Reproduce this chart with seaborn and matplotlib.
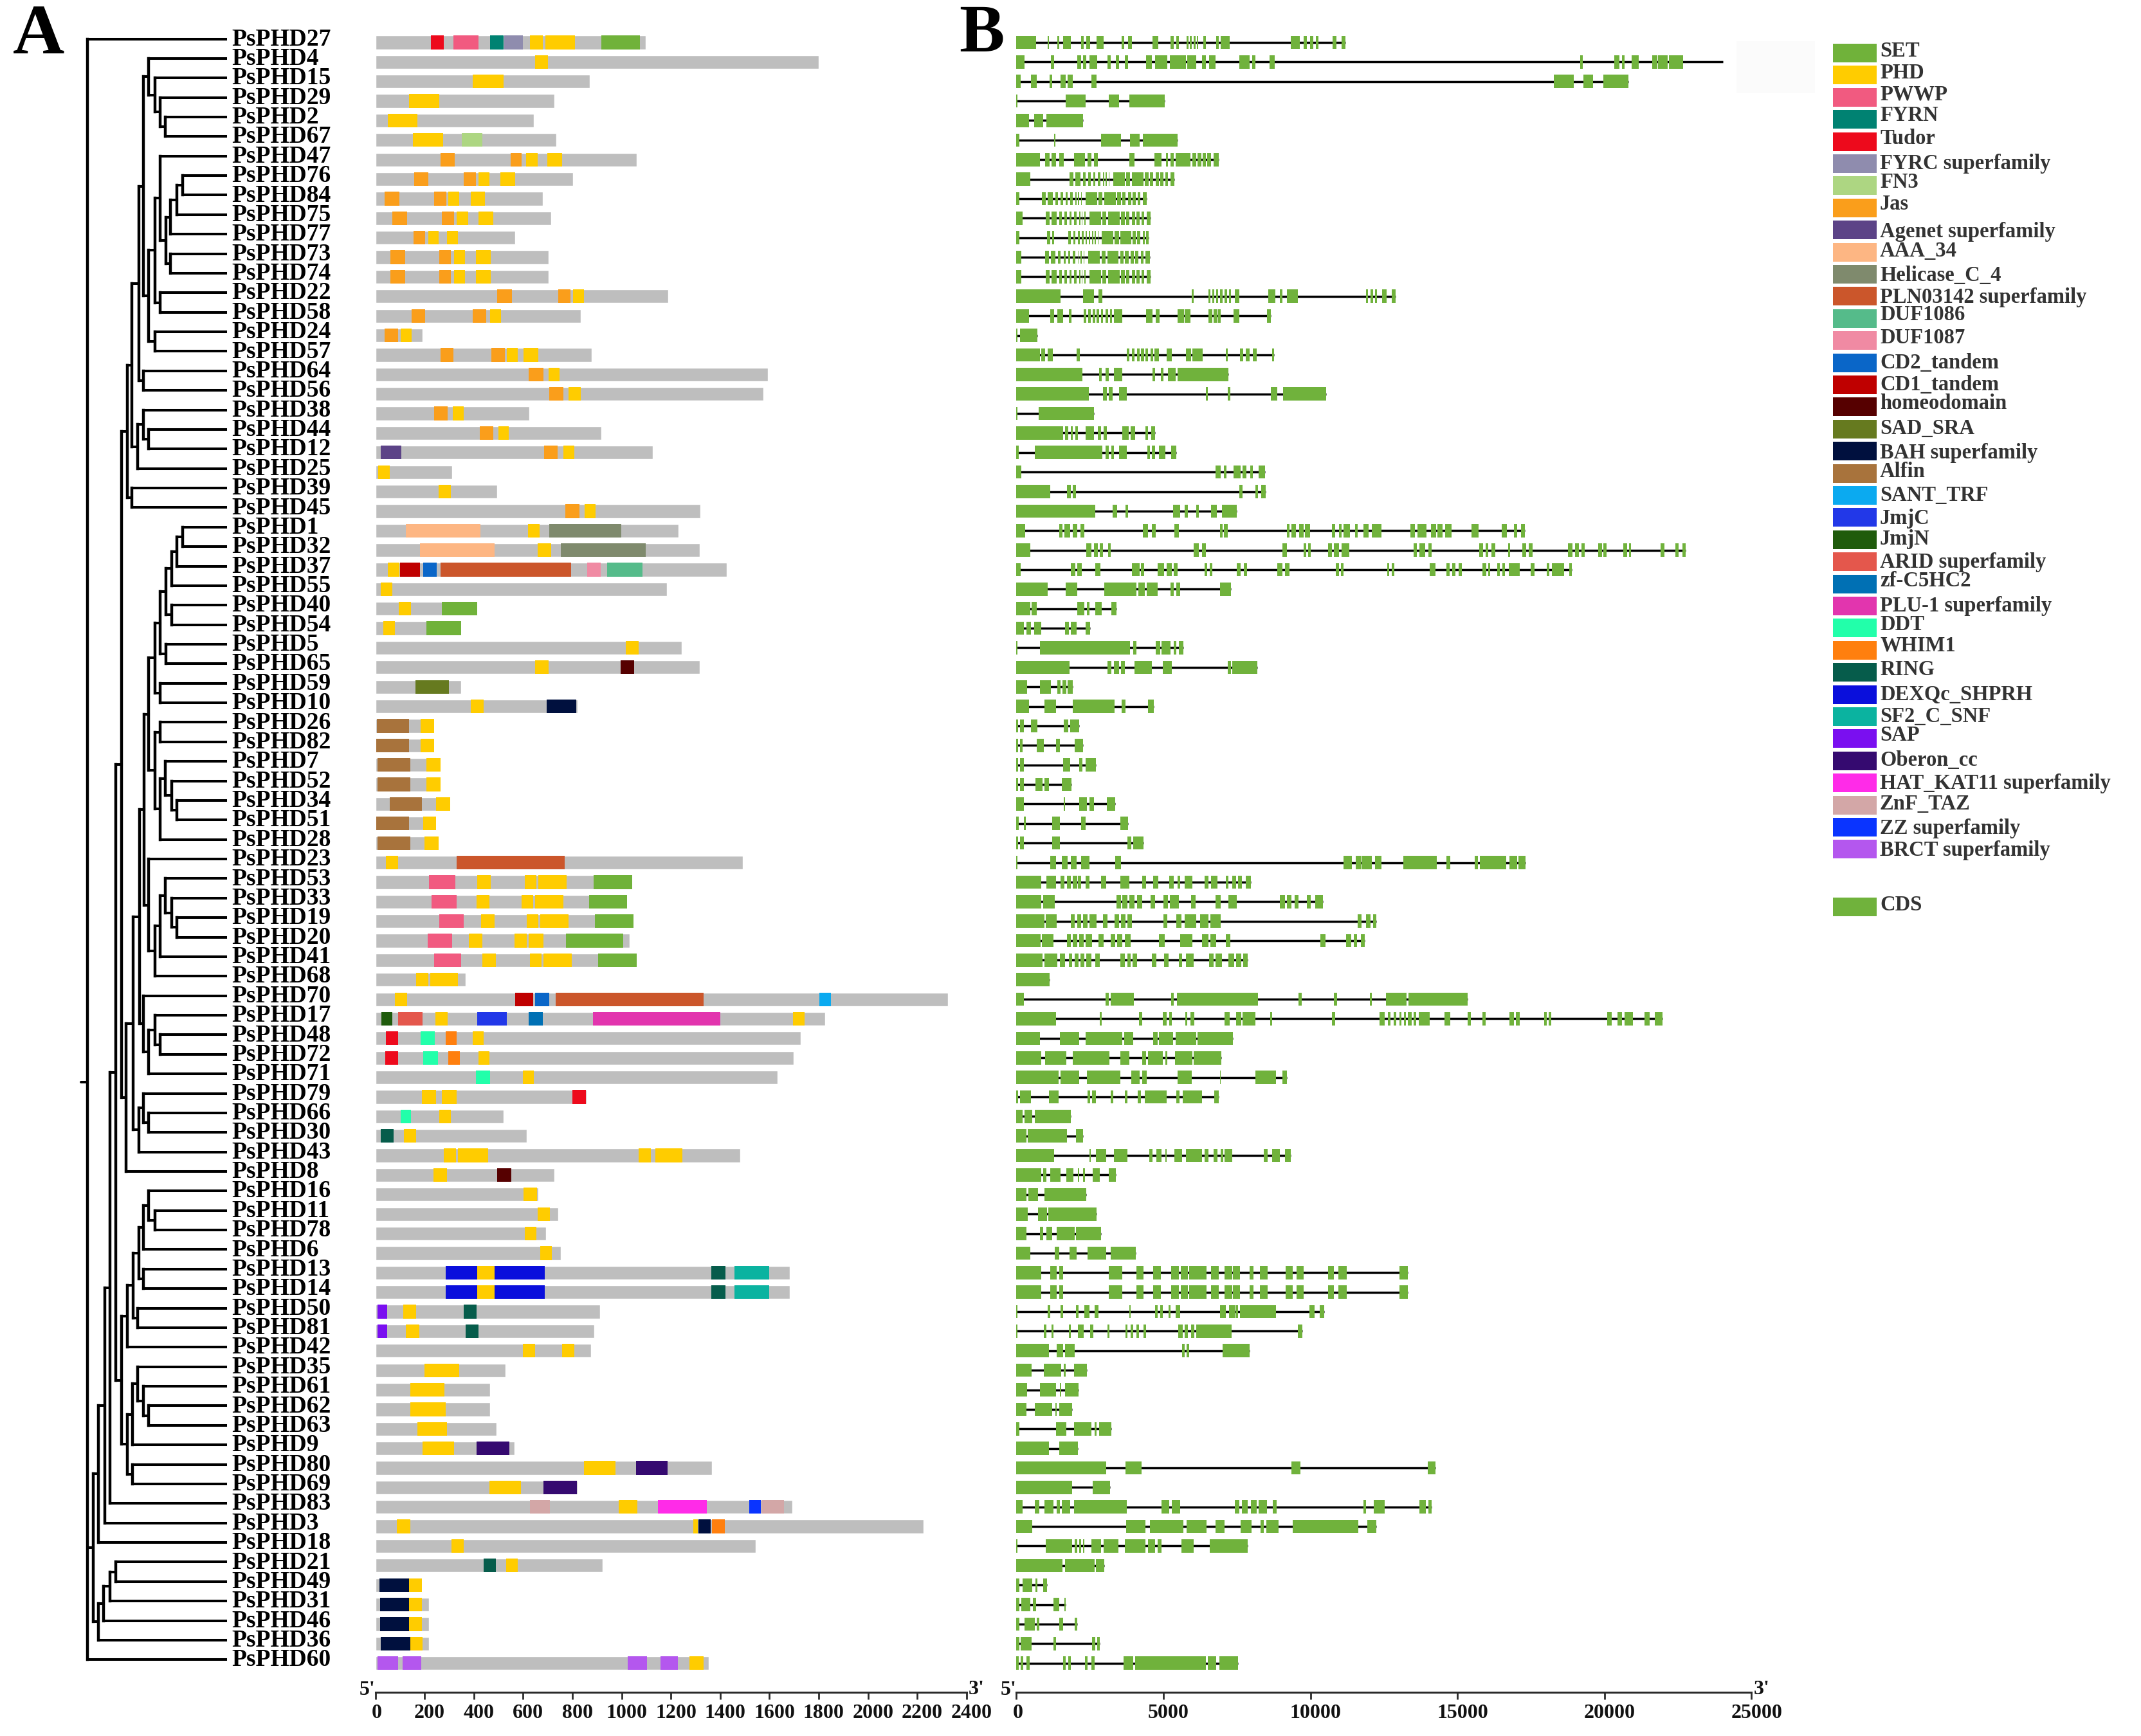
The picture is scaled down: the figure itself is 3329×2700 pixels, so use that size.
import matplotlib
matplotlib.use("Agg")
import matplotlib.pyplot as plt
from matplotlib.transforms import ScaledTranslation
import pandas as pd
import seaborn as sns

# Row order, top to bottom
genes = ["PsPHD27","PsPHD4","PsPHD15","PsPHD29","PsPHD2","PsPHD67","PsPHD47","PsPHD76","PsPHD84","PsPHD75","PsPHD77","PsPHD73","PsPHD74","PsPHD22",
         "PsPHD58","PsPHD24","PsPHD57","PsPHD64","PsPHD56","PsPHD38","PsPHD44","PsPHD12","PsPHD25","PsPHD39","PsPHD45","PsPHD1","PsPHD32","PsPHD37",
         "PsPHD55","PsPHD40","PsPHD54","PsPHD5","PsPHD65","PsPHD59","PsPHD10","PsPHD26","PsPHD82","PsPHD7","PsPHD52","PsPHD34","PsPHD51","PsPHD28",
         "PsPHD23","PsPHD53","PsPHD33","PsPHD19","PsPHD20","PsPHD41","PsPHD68","PsPHD70","PsPHD17","PsPHD48","PsPHD72","PsPHD71","PsPHD79","PsPHD66",
         "PsPHD30","PsPHD43","PsPHD8","PsPHD16","PsPHD11","PsPHD78","PsPHD6","PsPHD13","PsPHD14","PsPHD50","PsPHD81","PsPHD42","PsPHD35","PsPHD61",
         "PsPHD62","PsPHD63","PsPHD9","PsPHD80","PsPHD69","PsPHD83","PsPHD3","PsPHD18","PsPHD21","PsPHD49","PsPHD31","PsPHD46","PsPHD36","PsPHD60"]

# Protein lengths (aa), same order as genes
protein_len = [1098,1800,872,726,643,734,1061,803,681,714,568,703,703,1188,833,193,879,1593,1577,626,917,1127,311,496,1321,1232,1318,1428,1185,413,348,
               1243,1316,348,820,240,240,265,265,303,248,258,1493,1042,1021,1049,1032,1062,366,2325,1827,1727,1699,1632,857,521,616,1483,726,662,744,694,
               754,1684,1684,912,889,876,528,465,465,491,566,1367,821,1693,2227,1545,924,190,218,218,218,1354]

# Legend, domain name -> colour
legend_names = ["SET","PHD","PWWP","FYRN","Tudor","FYRC superfamily","FN3","Jas","Agenet superfamily","AAA_34","Helicase_C_4","PLN03142 superfamily",
                "DUF1086","DUF1087","CD2_tandem","CD1_tandem","homeodomain","SAD_SRA","BAH superfamily","Alfin","SANT_TRF","JmjC","JmjN","ARID superfamily",
                "zf-C5HC2","PLU-1 superfamily","DDT","WHIM1","RING","DEXQc_SHPRH","SF2_C_SNF","SAP","Oberon_cc","HAT_KAT11 superfamily","ZnF_TAZ",
                "ZZ superfamily","BRCT superfamily","CDS"]
legend_colors = ["#70B23A","#FFCC00","#F15A80","#008272","#ED0A1C","#8F8CAE","#ADD682","#FA9E1B","#5C4387","#FDB683","#7F8A6D","#CB562B",
                 "#55BB8A","#F08AA3","#0A66C8","#BF0000","#560000","#667A1F","#00103E","#A8733C","#0BAAF0","#2238E8","#1F5B0C","#E4574C",
                 "#0070B4","#E235AE","#22FFAA","#FF7F0E","#065C4B","#0A0FDC","#0BB3A0","#7A0FF0","#350A70","#FF2BE8","#D3A7A7",
                 "#0A34FF","#B457EE","#70B23C"]
legend_box_top = [68,102,137,171,206,240,274,309,343,378,412,446,481,515,550,584,618,653,687,722,756,790,825,859,894,928,962,997,1031,1066,1100,
                  1134,1169,1203,1238,1272,1306,1396]
legend_text_y = [79,113,147,180,216,255,284,318,360,391,428,462,490,525,564,599,628,666,704,733,770,806,839,874,903,942,971,1004,1041,1080,1115,
                 1143,1183,1218,1251,1288,1322,1407]

# Domains: (name, start aa, end aa)
dom_27 = [("Tudor",225,278),("PWWP",316,418),("FYRN",466,520),("FYRC superfamily",524,600),("PHD",629,680),("PHD",691,811),("SET",917,1075)]
dom_4 = [("PHD",649,700)]
dom_15 = [("PHD",396,520)]
dom_29 = [("PHD",137,261)]
dom_2 = [("PHD",50,171)]
dom_67 = [("PHD",153,275),("FN3",350,435)]
dom_47 = [("Jas",265,323),("Jas",549,594),("PHD",613,658),("PHD",699,758)]
dom_76 = [("Jas",157,216),("Jas",360,408),("PHD",420,463),("PHD",508,568)]
dom_84 = [("Jas",37,97),("Jas",238,288),("PHD",296,341),("PHD",388,446)]
dom_75 = [("Jas",68,128),("Jas",271,320),("PHD",331,376),("PHD",420,480)]
dom_77 = [("Jas",155,203),("PHD",215,258),("PHD",290,335)]
dom_73 = [("Jas",62,122),("Jas",260,308),("PHD",320,365),("PHD",408,468)]
dom_74 = [("Jas",62,122),("Jas",260,308),("PHD",320,365),("PHD",408,468)]
dom_22 = [("Jas",495,555),("Jas",744,793),("PHD",803,848)]
dom_58 = [("Jas",147,203),("Jas",396,451),("PHD",465,510)]
dom_24 = [("Jas",37,92),("PHD",102,147)]
dom_57 = [("Jas",265,318),("Jas",470,525),("PHD",533,579),("PHD",603,661)]
dom_64 = [("Jas",624,683),("PHD",704,748)]
dom_56 = [("Jas",706,763),("PHD",784,833)]
dom_38 = [("Jas",238,295),("PHD",315,358)]
dom_44 = [("Jas",423,480),("PHD",500,543)]
dom_12 = [("Agenet superfamily",22,105),("Jas",686,741),("PHD",763,808)]
dom_25 = [("PHD",13,58)]
dom_39 = [("PHD",258,308)]
dom_45 = [("Jas",771,829),("PHD",849,895)]
dom_1 = [("AAA_34",125,426),("PHD",619,668),("Helicase_C_4",706,999)]
dom_32 = [("AAA_34",181,485),("PHD",658,713),("Helicase_C_4",753,1097)]
dom_37 = [("PHD",52,97),("CD1_tandem",100,181),("CD2_tandem",195,250),("PLN03142 superfamily",265,794),("DUF1087",860,916),("DUF1086",941,1084)]
dom_55 = [("PHD",22,70)]
dom_40 = [("PHD",95,145),("SET",271,413)]
dom_54 = [("PHD",32,80),("SET",208,348)]
dom_5 = [("PHD",1018,1068)]
dom_65 = [("PHD",648,703),("homeodomain",995,1050)]
dom_59 = [("SAD_SRA",163,300)]
dom_10 = [("PHD",388,441),("BAH superfamily",696,816)]
dom_26 = [("Alfin",7,137),("PHD",185,240)]
dom_82 = [("Alfin",5,137),("PHD",185,240)]
dom_7 = [("Alfin",10,142),("PHD",208,265)]
dom_52 = [("Alfin",10,142),("PHD",208,265)]
dom_34 = [("Alfin",58,188),("PHD",246,303)]
dom_51 = [("Alfin",3,137),("PHD",195,248)]
dom_28 = [("Alfin",10,142),("PHD",201,258)]
dom_23 = [("PHD",43,93),("PLN03142 superfamily",330,769)]
dom_53 = [("PWWP",218,325),("PHD",413,468),("PHD",606,654),("PHD",661,778),("SET",887,1042)]
dom_33 = [("PWWP",228,330),("PHD",410,463),("PHD",593,641),("PHD",648,763),("SET",868,1021)]
dom_19 = [("PWWP",260,358),("PHD",430,485),("PHD",614,663),("PHD",669,784),("SET",892,1049)]
dom_20 = [("PWWP",213,311),("PHD",381,436),("PHD",566,616),("PHD",623,683),("SET",774,1006)]
dom_41 = [("PWWP",238,348),("PHD",435,490),("PHD",628,676),("PHD",684,798),("SET",904,1062)]
dom_68 = [("PHD",166,216),("PHD",223,336)]
dom_70 = [("PHD",80,128),("CD1_tandem",569,641),("CD2_tandem",649,706),("PLN03142 superfamily",733,1334),("SANT_TRF",1804,1851)]
dom_17 = [("JmjN",25,68),("ARID superfamily",93,191),("PHD",245,293),("JmjC",415,534),("zf-C5HC2",623,679),("PLU-1 superfamily",884,1400),("PHD",1697,1744)]
dom_48 = [("Tudor",43,93),("DDT",183,241),("WHIM1",285,331),("PHD",396,441)]
dom_72 = [("Tudor",40,92),("DDT",195,255),("WHIM1",296,343),("PHD",418,463)]
dom_71 = [("DDT",408,465),("PHD",599,644)]
dom_79 = [("PHD",190,246),("PHD",271,330),("Tudor",799,854)]
dom_66 = [("DDT",102,145),("PHD",260,306)]
dom_30 = [("RING",23,75),("PHD",117,165)]
dom_43 = [("PHD",278,328),("PHD",335,458),("PHD",1070,1118),("PHD",1138,1248)]
dom_8 = [("PHD",236,291),("homeodomain",495,551)]
dom_16 = [("PHD",601,656)]
dom_11 = [("PHD",659,708)]
dom_78 = [("PHD",606,654)]
dom_6 = [("PHD",669,718)]
dom_13 = [("DEXQc_SHPRH",286,413),("PHD",413,485),("DEXQc_SHPRH",485,689),("RING",1365,1422),("SF2_C_SNF",1457,1598)]
dom_14 = [("DEXQc_SHPRH",286,413),("PHD",413,485),("DEXQc_SHPRH",485,689),("RING",1365,1422),("SF2_C_SNF",1457,1598)]
dom_50 = [("SAP",10,48),("PHD",113,167),("RING",358,411)]
dom_81 = [("SAP",10,47),("PHD",123,178),("RING",368,420)]
dom_42 = [("PHD",598,648),("PHD",758,808)]
dom_35 = [("PHD",201,341)]
dom_61 = [("PHD",143,281)]
dom_62 = [("PHD",143,285)]
dom_63 = [("PHD",170,290)]
dom_9 = [("PHD",193,321),("Oberon_cc",411,544)]
dom_80 = [("PHD",847,974),("Oberon_cc",1060,1187)]
dom_69 = [("PHD",463,591),("Oberon_cc",684,818)]
dom_83 = [("ZnF_TAZ",629,708),("PHD",987,1063),("HAT_KAT11 superfamily",1147,1347),("ZZ superfamily",1517,1566),("ZnF_TAZ",1569,1658)]
dom_3 = [("PHD",87,143),("PHD",1290,1310),("BAH superfamily",1313,1362),("WHIM1",1368,1418)]
dom_18 = [("PHD",310,358)]
dom_21 = [("RING",440,490),("PHD",531,579)]
dom_49 = [("BAH superfamily",17,137),("PHD",137,190)]
dom_31 = [("BAH superfamily",20,138),("PHD",138,188)]
dom_46 = [("BAH superfamily",20,138),("PHD",138,188)]
dom_36 = [("BAH superfamily",23,142),("PHD",142,191)]
dom_60 = [("BRCT superfamily",10,93),("BRCT superfamily",110,186),("BRCT superfamily",1026,1104),("BRCT superfamily",1158,1228),("PHD",1276,1332)]

# Exons (bp)
exon_27 = [(0,670),(1055,1105),(1390,1460),(1590,1860),(2190,2280),(2380,2500),(2730,2960),(3580,3670),(3800,3930),(4620,4820),(5240,5360),(5440,5520),(5780,5850),(5900,5970),(6020,6090),(6130,6190),(6360,6450),(6800,6880),(6950,7250),(9340,9630),(9760,9880),(9990,10090),(10180,10280),(10750,10880),(11050,11180)]
exon_4 = [(0,285),(1170,1290),(2075,2190),(2260,2380),(2480,2745),(3100,3200),(3380,3500),(3680,3800),(4420,4600),(4720,5140),(5220,5775),(5810,6110),(6310,6445),(6560,6780),(7570,7920),(8020,8120),(8600,8790),(19170,19270),(20340,20510),(20590,20690),(20925,21160),(21630,21800),(21830,22150),(22200,22680)]
exon_15 = [(0,135),(500,690),(1120,1220),(1510,1680),(1740,1910),(2560,2730),(18280,18950),(19280,19620),(19950,20810)]
exon_29 = [(0,35),(1675,2360),(3130,3480),(3830,5040)]
exon_2 = [(0,435),(600,920),(1020,2260)]
exon_67 = [(0,100),(1290,1320),(2880,3550),(3870,4185),(4300,5490)]
exon_47 = [(0,800),(970,1120),(1205,1355),(1455,1605),(1960,2330),(2430,2545),(2645,2760),(3850,4020),(4700,4940),(5090,5155),(5240,5340),(5420,5925),(5990,6110),(6160,6280),(6330,6445),(6495,6610),(6700,6880)]
exon_76 = [(0,470),(1810,1940),(2010,2180),(2260,2345),(2445,2530),(2615,2680),(2765,2850),(2950,2980),(3030,3065),(3130,3165),(3285,3685),(3735,3870),(3935,4320),(4370,4490),(4540,4655),(4740,4840),(4890,4990),(5075,5160),(5240,5375)]
exon_84 = [(0,100),(870,1000),(1070,1240),(1320,1405),(1505,1590),(1675,1740),(1825,1910),(2010,2040),(2090,2125),(2190,2225),(2345,2745),(2795,2930),(2995,3380),(3430,3550),(3600,3715),(3800,3900),(3950,4050),(4135,4220),(4300,4435)]
exon_75 = [(0,220),(1000,1130),(1200,1370),(1450,1535),(1635,1720),(1805,1870),(1955,2040),(2140,2170),(2220,2255),(2320,2355),(2475,2875),(2925,3060),(3125,3510),(3560,3680),(3730,3845),(3930,4030),(4080,4180),(4265,4350),(4430,4565)]
exon_77 = [(0,100),(1040,1160),(1220,1290),(1760,1850),(1930,2000),(2090,2150),(2220,2280),(2350,2400),(2470,2510),(2580,2610),(2660,2700),(2770,2800),(2900,3300),(3340,3480),(3540,3900),(3960,4060),(4110,4220),(4290,4360),(4410,4490)]
exon_73 = [(0,170),(965,1100),(1165,1335),(1415,1500),(1600,1685),(1770,1835),(1920,2005),(2105,2135),(2185,2220),(2285,2320),(2440,2840),(2890,3025),(3090,3475),(3525,3645),(3695,3810),(3895,3995),(4045,4145),(4230,4315),(4395,4530)]
exon_74 = [(0,170),(1000,1130),(1200,1370),(1450,1535),(1635,1720),(1805,1870),(1955,2040),(2140,2170),(2220,2255),(2320,2355),(2475,2875),(2925,3060),(3125,3510),(3560,3680),(3730,3845),(3930,4030),(4080,4180),(4265,4350),(4430,4565)]
exon_22 = [(0,1490),(2260,2630),(2795,2930),(5960,6030),(6530,6600),(6660,6730),(6800,6860),(6930,7010),(7080,7165),(7230,7300),(7430,7585),(8555,8805),(8955,9055),(9190,9575),(11885,11950),(12035,12120),(12200,12270),(12440,12600),(12770,12905)]
exon_58 = [(0,435),(1155,1290),(1390,1590),(1775,1875),(2280,2380),(2445,2530),(2595,2680),(2730,2810),(2880,2950),(3030,3110),(3180,3260),(3310,3600),(4400,4620),(4740,4870),(5490,5690),(5725,5910),(6530,6660),(6700,6830),(6860,6950),(7380,7585),(8520,8655)]
exon_24 = [(0,30),(120,720)]
exon_57 = [(0,800),(855,970),(1055,1240),(2040,2160),(3750,3850),(3920,4020),(4100,4185),(4235,4335),(4385,4485),(4555,4650),(4700,4855),(5120,5290),(5775,5945),(5990,6330),(7115,7180),(7600,7720),(7800,7920),(8035,8170),(8690,8770)]
exon_64 = [(0,2245),(2810,2910),(3030,3130),(3315,3600),(4620,4705),(4905,4990),(5155,5405),(5475,7215)]
exon_56 = [(0,2460),(2945,3065),(3130,3265),(3500,3750),(6445,6510),(7180,7280),(8655,8870),(9075,10530)]
exon_38 = [(0,35),(755,2630)]
exon_44 = [(0,1590),(1660,1760),(1840,1910),(2010,2090),(2345,2630),(2760,2880),(2960,3080),(3600,3820),(3885,4035),(4385,4470),(4590,4720)]
exon_12 = [(0,85),(635,2930),(3030,3130),(3230,3315),(3500,3750),(4450,4535),(4600,4705),(4840,5070),(5270,5440)]
exon_25 = [(0,170),(6780,6950),(7050,7150),(7380,7620),(7700,7820),(7950,8050),(8235,8455)]
exon_39 = [(0,1140),(1725,1840),(1910,2025),(7580,7700),(8135,8220),(8335,8470)]
exon_45 = [(0,2680),(3265,3415),(3700,3800),(5320,5575),(5725,5825),(6110,6195),(6610,6815),(7000,7500)]
exon_1 = [(0,300),(1455,1575),(1640,1825),(1925,2060),(2175,2310),(4300,4470),(4600,4740),(5375,5525),(6915,7015),(7065,7180),(9190,9290),(9360,9510),(9610,9760),(9810,9980),(10730,10830),(10965,11065),(11130,11350),(11515,11600),(11800,11970),(12085,12405),(13390,13560),(13645,13945),(14095,14280),(14310,14500),(14580,14800),(15470,15720),(16505,16675),(16910,17025),(17160,17290)]
exon_32 = [(0,470),(2375,2560),(2630,2760),(2845,2945),(3115,3215),(6025,6195),(6310,6445),(9040,9190),(9760,9845),(9925,10010),(10595,10730),(10800,10965),(11050,11315),(13510,13610),(13695,13895),(14010,14110),(15735,15870),(15950,16050),(16155,16290),(16725,16790),(17210,17340),(17425,17545),(18750,18915),(19000,19135),(19220,19320),(19790,19920),(19970,20070),(20640,20775),(20825,20910),(21900,22030),(22415,22515),(22650,22750)]
exon_37 = [(0,150),(1860,2010),(2060,2225),(2680,2860),(3935,4185),(4235,4350),(4805,5020),(5105,5275),(5355,5490),(6395,6480),(6580,6660),(7500,7635),(7735,7850),(8870,9055),(9125,9290),(10865,10965),(11030,11130),(12605,12670),(12770,12855),(14060,14260),(14615,14730),(14815,14930),(15030,15150),(15850,15985),(16050,16120),(16355,16440),(16520,16620),(16740,17125),(17490,17625),(18045,18130),(18215,18630),(18800,18880)]
exon_55 = [(0,1070),(1675,2075),(2980,4085),(4150,4370),(4435,4805),(5240,5340),(5440,5560),(6930,7300)]
exon_40 = [(0,470),(520,690),(2075,2310),(2395,2495),(2680,2910),(3230,3400)]
exon_54 = [(0,250),(350,485),(600,855),(1655,1775),(1840,2040),(2345,2510)]
exon_5 = [(0,35),(800,3865),(3965,4085),(4740,4890),(4940,5240),(5340,5440),(5525,5675)]
exon_65 = [(0,1810),(3100,3230),(3315,3480),(3565,3680),(4020,4600),(4970,5290),(7180,7300),(7350,8200)]
exon_59 = [(0,370),(800,1170),(1390,1510),(1575,1690),(1740,1910)]
exon_10 = [(0,420),(955,1340),(1925,3330),(3580,3700),(4470,4670)]
exon_26 = [(0,50),(120,250),(500,720),(1610,1760),(1825,2125)]
exon_82 = [(0,50),(120,220),(690,940),(1355,1470),(1990,2260)]
exon_7 = [(0,50),(120,250),(1590,1825),(2140,2245),(2345,2710)]
exon_52 = [(0,50),(120,250),(650,890),(955,1105),(1540,1875)]
exon_34 = [(0,250),(1610,1660),(2140,2395),(2495,2645),(3080,3365)]
exon_51 = [(0,85),(250,320),(1220,1470),(2210,2345),(3530,3800)]
exon_28 = [(0,50),(120,250),(1220,1470),(3765,3900),(3970,4320)]
exon_23 = [(0,35),(1155,1340),(1540,1740),(1860,2040),(2190,2495),(3365,3550),(11115,11400),(11550,11735),(11750,12085),(12205,12405),(13160,14300),(14630,14765),(15585,15700),(15770,16655),(16760,17025),(17075,17325)]
exon_53 = [(0,855),(1020,1355),(1490,1640),(1725,1860),(1925,2060),(2090,2190),(2345,2495),(2880,3045),(3530,3850),(4270,4400),(4655,4820),(5190,5355),(5475,5575),(5725,5990),(6395,6530),(6610,6830),(7115,7215),(7330,7465),(7535,7665),(7800,7985)]
exon_33 = [(0,855),(920,1305),(3400,3565),(3600,3770),(3850,4020),(4100,4270),(4555,4720),(4990,5155),(5225,5525),(5945,6095),(6780,6950),(7200,7485),(8955,9125),(9210,9360),(9460,9595),(9875,10010),(10160,10430)]
exon_19 = [(0,955),(1005,1375),(1860,1990),(2060,2190),(2260,2430),(2480,2730),(2945,3095),(3330,3500),(3550,3700),(3780,3935),(4990,5140),(5440,5610),(5725,6110),(6245,6530),(6600,6950),(11600,11735),(11885,12050),(12135,12240)]
exon_20 = [(0,820),(870,1255),(1710,1860),(1925,2075),(2145,2280),(2360,2580),(2795,2960),(3215,3350),(3415,3600),(3680,3885),(4840,5040),(5575,5975),(6310,6530),(6600,6800),(7115,7280),(10330,10510),(11215,11380),(11465,11585),(11720,11850)]
exon_41 = [(0,890),(955,1390),(1470,1655),(1790,1900),(1975,2110),(2175,2310),(2380,2560),(2680,2845),(3530,3680),(3765,3885),(3950,4100),(4600,4770),(5020,5170),(5525,5625),(5775,6025),(6560,6700),(6770,6995),(7200,7400),(7470,7650),(7720,7870)]
exon_68 = [(0,1120)]
exon_70 = [(0,250),(3030,3130),(3215,4000),(5255,5340),(5455,8220),(9590,9710),(10800,10900),(12020,12090),(12570,13260),(13330,15335)]
exon_17 = [(0,1355),(2830,2910),(4170,4270),(4970,5105),(5205,5275),(5740,5810),(5910,6060),(7080,7250),(7480,7650),(7700,8120),(8620,8705),(10730,10830),(12355,12520),(12640,12720),(12840,12920),(13020,13100),(13170,13250),(13320,13440),(13500,13600),(13680,14060),(14565,14750),(15350,15450),(15850,15950),(16760,16920),(16990,17125),(17945,18040),(18110,18195),(20090,20255),(20440,20590),(20675,20975),(21360,21545),(21710,21980)]
exon_48 = [(0,800),(1470,2140),(2360,3600),(3665,3970),(4640,4805),(4855,5325),(5405,5610),(5610,6110),(6160,7365)]
exon_72 = [(0,840),(970,1690),(1925,3165),(3530,3850),(4270,4400),(4485,4970),(5055,5140),(5390,5990),(6025,6965)]
exon_71 = [(0,1440),(1490,2140),(2395,3530),(3900,4200),(4270,4435),(5490,5960),(6915,6950),(8135,8820),(9040,9205)]
exon_79 = [(0,50),(120,485),(1105,1440),(2410,2510),(2580,2710),(3215,3300),(3680,3785),(4135,4235),(4370,5105),(5440,5540),(5660,6310),(6730,6880)]
exon_66 = [(0,220),(285,535),(620,1860)]
exon_30 = [(0,335),(385,1725),(2025,2275)]
exon_43 = [(0,1290),(2480,2530),(2710,3060),(3315,3785),(4520,4620),(4755,4940),(5055,5105),(5375,5625),(5775,6310),(6395,6530),(6700,6830),(6950,7030),(7080,7350),(8420,8540),(8700,8955),(9125,9340)]
exon_8 = [(0,835),(905,1015),(1140,1505),(1705,1940),(2085,2140),(2270,2340),(2595,2830),(3140,3390)]
exon_16 = [(0,345),(415,745),(960,2375)]
exon_11 = [(0,380),(745,1035),(1090,2720)]
exon_78 = [(0,345),(800,905),(1015,1215),(1360,1975),(2030,2885)]
exon_6 = [(0,470),(1305,1450),(1815,2050),(2410,3050),(3210,4065)]
exon_13 = [(0,850),(1160,1380),(1450,1595),(3140,3610),(4080,4320),(4645,4915),(5260,5515),(5585,5840),(5875,6460),(6620,6875),(7075,7330),(7365,7600),(7925,8055),(8290,8545),(9160,9395),(9525,9760),(10610,10795),(10955,11230),(13025,13315)]
exon_14 = [(0,850),(1160,1380),(1450,1595),(3140,3610),(4080,4320),(4645,4915),(5260,5515),(5585,5840),(5875,6460),(6620,6875),(7075,7330),(7365,7600),(7925,8055),(8290,8545),(9160,9395),(9525,9760),(10610,10795),(10955,11230),(13025,13315)]
exon_50 = [(0,35),(1070,1160),(1505,1580),(2015,2120),(2320,2485),(2650,2795),(3830,3880),(4715,4805),(4900,4970),(5170,5240),(5425,5570),(6930,7130),(7240,7420),(7455,7545),(7600,8835),(9975,10140),(10320,10465)]
exon_81 = [(0,35),(925,1015),(1200,1250),(1780,1850),(2085,2285),(2505,2610),(3100,3155),(3720,3775),(3880,3970),(4080,4170),(4320,4410),(5495,5660),(5730,5840),(5950,6060),(6115,7310),(9580,9725)]
exon_42 = [(0,1105),(1360,1580),(1650,1975),(5640,5715),(5785,5875),(7020,7925)]
exon_35 = [(0,510),(925,1525),(1615,1685),(1960,2395)]
exon_61 = [(0,365),(800,1340),(1470,1525),(1650,2120)]
exon_62 = [(0,345),(635,1215),(1325,1380),(1450,1905)]
exon_63 = [(0,90),(1340,1705),(1960,2560),(2650,2720),(2810,3230)]
exon_9 = [(0,1105),(1450,2085)]
exon_80 = [(0,3050),(3700,4265),(9360,9650),(13985,14260)]
exon_69 = [(0,1905),(2595,3190)]
exon_83 = [(0,200),(635,780),(960,1270),(1360,1470),(1540,1830),(1960,3755),(4935,5205),(5280,5570),(7420,7580),(7675,7875),(7965,8165),(8235,8525),(8725,8855),(11810,11880),(12155,12515),(13715,13915),(14020,14130)]
exon_3 = [(0,545),(3735,4390),(4535,5680),(5785,6475),(6765,7075),(7635,8000),(8310,8415),(8505,8925),(9395,11630),(11935,12245)]
exon_18 = [(0,35),(1000,1905),(1975,2070),(2140,2195),(2265,2320),(2560,2885),(2955,3465),(3680,4390),(4480,4715),(4805,4935),(5605,6020),(6585,7875)]
exon_21 = [(0,1560),(1650,2650),(2700,2995)]
exon_49 = [(0,90),(200,545),(655,710),(905,1035)]
exon_31 = [(0,90),(165,470),(560,670),(1270,1450),(1630,1670)]
exon_46 = [(0,90),(270,635),(690,780),(1450,1595),(1975,2070)]
exon_36 = [(0,90),(145,510),(1270,1340),(2575,2685),(2740,2830)]
exon_60 = [(0,70),(145,235),(345,455),(1580,1685),(1760,1850),(2340,2430),(2540,2650),(3645,3975),(4045,6440),(6510,6800),(6910,7530)]

# PsPHD4 carries a long 3' stretch past its last exon
line_end_overrides = {"PsPHD4": 24020}

# Tree: (branch depth, child, child, ...), leaves are gene names
tree = (136, "PsPHD27",
    (145,
        (153,
            (163,
                (171,
                    (180,
                        (189,
                            (198,
                                (205,
                                    (216,
                                        (223,
                                            (231, "PsPHD4", (241, "PsPHD15", (249, "PsPHD29", (257, "PsPHD2", "PsPHD67")))),
                                            (231,
                                                (241,
                                                    (249, "PsPHD47", (258, (265, (275, (284, "PsPHD76", "PsPHD84"), "PsPHD75"), "PsPHD77"), (265, "PsPHD73", "PsPHD74"))),
                                                    (249, "PsPHD22", "PsPHD58")),
                                                (241, "PsPHD24", "PsPHD57"))),
                                        (223, "PsPHD64", "PsPHD56")),
                                    (214, (223, "PsPHD38", (231, "PsPHD44", "PsPHD12")), "PsPHD25")),
                                (205, "PsPHD39", "PsPHD45")),
                            (196,
                                (207,
                                    (217,
                                        (224,
                                            (231,
                                                (241,
                                                    (249,
                                                        (258, (267, (275, (284, "PsPHD1", "PsPHD32"), "PsPHD37"), "PsPHD55"), (267, "PsPHD40", "PsPHD54")),
                                                        (258, "PsPHD5", "PsPHD65")),
                                                    (249, "PsPHD59", "PsPHD10")),
                                                (241,
                                                    (249, "PsPHD26", "PsPHD82"),
                                                    (249, (257, "PsPHD7", (267, "PsPHD52", (275, "PsPHD34", "PsPHD51"))), "PsPHD28"))),
                                            (231, "PsPHD23",
                                                (241, (249, (257, "PsPHD53", (267, "PsPHD33", (275, "PsPHD19", "PsPHD20"))), "PsPHD41"), "PsPHD68"))),
                                        (223, "PsPHD70", (231, (241, "PsPHD17", (249, "PsPHD48", "PsPHD72")), "PsPHD71"))),
                                    (216, (223, "PsPHD79", (231, "PsPHD66", "PsPHD30")), "PsPHD43")),
                                "PsPHD8")),
                        (189,
                            (198,
                                (207,
                                    (216,
                                        (223, (231, "PsPHD16", (241, "PsPHD11", "PsPHD78")), "PsPHD6"),
                                        (223, "PsPHD13", "PsPHD14")),
                                    (214, "PsPHD50", "PsPHD81")),
                                "PsPHD42"),
                            (198,
                                (206, (214, "PsPHD35", (223, "PsPHD61", (231, "PsPHD62", "PsPHD63"))), "PsPHD9"),
                                (206, "PsPHD80", "PsPHD69")))),
                    "PsPHD83"),
                "PsPHD3"),
            "PsPHD18"),
        (153, (161, (171, (180, "PsPHD21", "PsPHD49"), "PsPHD31"), "PsPHD46"), "PsPHD36")),
    "PsPHD60")

domain_rows = [dom_27,dom_4,dom_15,dom_29,dom_2,dom_67,dom_47,dom_76,dom_84,dom_75,dom_77,dom_73,dom_74,dom_22,dom_58,dom_24,dom_57,dom_64,dom_56,dom_38,dom_44,
               dom_12,dom_25,dom_39,dom_45,dom_1,dom_32,dom_37,dom_55,dom_40,dom_54,dom_5,dom_65,dom_59,dom_10,dom_26,dom_82,dom_7,dom_52,dom_34,dom_51,dom_28,
               dom_23,dom_53,dom_33,dom_19,dom_20,dom_41,dom_68,dom_70,dom_17,dom_48,dom_72,dom_71,dom_79,dom_66,dom_30,dom_43,dom_8,dom_16,dom_11,dom_78,dom_6,
               dom_13,dom_14,dom_50,dom_81,dom_42,dom_35,dom_61,dom_62,dom_63,dom_9,dom_80,dom_69,dom_83,dom_3,dom_18,dom_21,dom_49,dom_31,dom_46,dom_36,dom_60]
exon_rows = [exon_27,exon_4,exon_15,exon_29,exon_2,exon_67,exon_47,exon_76,exon_84,exon_75,exon_77,exon_73,exon_74,exon_22,exon_58,exon_24,exon_57,exon_64,exon_56,exon_38,exon_44,
             exon_12,exon_25,exon_39,exon_45,exon_1,exon_32,exon_37,exon_55,exon_40,exon_54,exon_5,exon_65,exon_59,exon_10,exon_26,exon_82,exon_7,exon_52,exon_34,exon_51,exon_28,
             exon_23,exon_53,exon_33,exon_19,exon_20,exon_41,exon_68,exon_70,exon_17,exon_48,exon_72,exon_71,exon_79,exon_66,exon_30,exon_43,exon_8,exon_16,exon_11,exon_78,exon_6,
             exon_13,exon_14,exon_50,exon_81,exon_42,exon_35,exon_61,exon_62,exon_63,exon_9,exon_80,exon_69,exon_83,exon_3,exon_18,exon_21,exon_49,exon_31,exon_46,exon_36,exon_60]

W, H = 3329, 2700
FIRST_ROW_PX = 66
ROW_PX = 30.37
BAR_H = 0.70
AXIS_ROW = 84.49
TREE_ROW_SHIFT = -0.18
GREY = "#BEBEBE"
CDS_COLOR = legend_colors[-1]
DARK = "#333333"

sns.set_theme(style="white")
plt.rcParams["font.family"] = ["Liberation Serif", "DejaVu Serif"]
plt.rcParams["font.weight"] = "bold"

fig = plt.figure(figsize=(W / 100, H / 100), dpi=100, facecolor="white")


def panel_axes(left_px, right_px):
    ax = fig.add_axes([left_px / W, 0, (right_px - left_px) / W, 1])
    ax.patch.set_alpha(0)
    return ax


def set_rows(ax):
    ax.set_ylim((H - FIRST_ROW_PX) / ROW_PX, -FIRST_ROW_PX / ROW_PX)


def style_scale(ax, x_max, ticks):
    for side in ["top", "left", "right"]:
        ax.spines[side].set_visible(False)
    ax.spines["bottom"].set_position(("data", AXIS_ROW))
    ax.spines["bottom"].set_bounds(0, x_max)
    ax.spines["bottom"].set_linewidth(2.2)
    ax.spines["bottom"].set_color("#2b2b2b")
    ax.set_xticks(ticks)
    ax.set_xticklabels([str(t) for t in ticks], fontsize=23, fontweight="bold", color="#111111")
    ax.tick_params(axis="x", bottom=True, direction="out", length=8, width=2, pad=5, color="#2b2b2b")
    # labels sit a little to the right of their ticks in the original
    for tick_value, label in zip(ticks, ax.get_xticklabels()):
        dx = 2 if tick_value == 0 else 8
        label.set_transform(label.get_transform() + ScaledTranslation(dx / 100, 0, fig.dpi_scale_trans))
    ax.set_yticks([])
    ax.set_xlabel("")
    ax.set_ylabel("")
    ax.text(0, AXIS_ROW - 0.1, "5'", ha="right", va="center", fontsize=23, color="#111111")
    ax.text(x_max * 1.003, AXIS_ROW - 0.15, "3'", ha="left", va="center", fontsize=23, color="#111111")


# ---------------------------------------
# Tree and gene labels
# ---------------------------------------
ax_tree = panel_axes(0, 560)
ax_tree.set_xlim(0, 560)
set_rows(ax_tree)
ax_tree.axis("off")
TIP_X = 351


def draw_node(node):
    if isinstance(node, str):
        return None, genes.index(node) + TREE_ROW_SHIFT
    depth = node[0]
    ys = []
    for child in node[1:]:
        child_x, child_y = draw_node(child)
        end_x = TIP_X if child_x is None else child_x
        ax_tree.plot([depth, end_x], [child_y, child_y], color="black", lw=2.9, solid_capstyle="projecting")
        ys.append(child_y)
    ax_tree.plot([depth, depth], [ys[0], ys[-1]], color="black", lw=3.2, solid_capstyle="projecting")
    return depth, sum(ys) / len(ys)


root_x, root_y = draw_node(tree)
ax_tree.plot([126, root_x], [root_y, root_y], color="black", lw=2.9)

for i, name in enumerate(genes):
    ax_tree.text(360, i + TREE_ROW_SHIFT + 0.02, name, ha="left", va="center", fontsize=27, color="black")

# ---------------------------------------
# Panel A: protein backbones and domains
# ---------------------------------------
AA_PX = 0.383
ax_dom = panel_axes(583.5, 583.5 + 2450 * AA_PX)
df_prot = pd.DataFrame({"gene": genes, "length": protein_len})
sns.barplot(data=df_prot, x="length", y="gene", order=genes, color=GREY, saturation=1, width=BAR_H, orient="h", ax=ax_dom)
domain_color = dict(zip(legend_names, legend_colors))
for i, spans in enumerate(domain_rows):
    for name, start, end in spans:
        ax_dom.barh(i, end - start, left=start, height=BAR_H, color=domain_color[name], linewidth=0, zorder=3)
ax_dom.set_xlim(0, 2450)
set_rows(ax_dom)
style_scale(ax_dom, 2400, list(range(0, 2401, 200)))

# ---------------------------------------
# Panel B: gene structures
# ---------------------------------------
BP_PX = 0.04572
ax_gene = panel_axes(1580.4, 1580.4 + 25600 * BP_PX)
for i, spans in enumerate(exon_rows):
    line_end = line_end_overrides.get(genes[i], spans[-1][1])
    ax_gene.hlines(i, 0, line_end, color="black", lw=2.5, zorder=2)
    for start, end in spans:
        ax_gene.barh(i, end - start, left=start, height=0.68, color=CDS_COLOR, linewidth=0, zorder=3)
ax_gene.set_xlim(0, 25600)
set_rows(ax_gene)
style_scale(ax_gene, 25000, list(range(0, 25001, 5000)))

# ---------------------------------------
# Legend (px coordinates)
# ---------------------------------------
ax_leg = panel_axes(2690, W)
ax_leg.set_xlim(2690, W)
ax_leg.set_ylim(H, 0)
ax_leg.axis("off")
ax_leg.barh(104.5, 122, left=2700, height=81, color="#FBFBFB", linewidth=0)
for name, color, top, text_y in zip(legend_names, legend_colors, legend_box_top, legend_text_y):
    ax_leg.barh(top + 14.5, 67.5, left=2850, height=29, color=color, linewidth=0)
    ax_leg.text(2923, text_y, name, ha="left", va="center", fontsize=23.5, color=DARK)

fig.text(20 / W, 1 - 83 / H, "A", fontsize=80, color="black", ha="left", va="baseline")
fig.text(1491 / W, 1 - 80 / H, "B", fontsize=76, color="black", ha="left", va="baseline")

fig.savefig("out.png", dpi=100, facecolor="white")
